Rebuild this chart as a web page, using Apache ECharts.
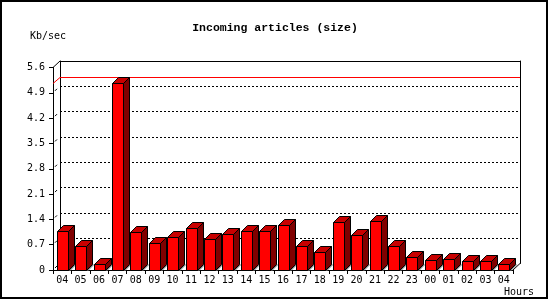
<!DOCTYPE html>
<html><head><meta charset="utf-8">
<script src="https://cdn.jsdelivr.net/npm/echarts@6/dist/echarts.min.js"></script>
<style>html,body{margin:0;padding:0;background:#fff}#c{width:550px;height:300px}</style>
</head><body><div id="c"></div>
<script>
var hours = ['04','05','06','07','08','09','10','11','12','13','14','15','16','17','18','19','20','21','22','23','00','01','02','03','04'];
var kbsec = [1.08,0.65,0.16,5.16,1.04,0.74,0.90,1.15,0.86,0.99,1.08,1.08,1.24,0.65,0.49,1.32,0.96,1.36,0.65,0.35,0.27,0.30,0.24,0.24,0.16];
var yTicks = [0,0.7,1.4,2.1,2.8,3.5,4.2,4.9,5.6];
var titleText = 'Incoming articles (size)';
var yName = 'Kb/sec';
var xName = 'Hours';

var maxVal = Math.max.apply(null, kbsec);
var FONT = '"DejaVu Sans Mono", monospace';
var D = 6, BW = 11;

function renderBar(params, api) {
  var idx = api.value(0), v = api.value(1);
  var top = api.coord([idx, v]);
  var base = api.coord([idx, 0]);
  var x0 = Math.round(top[0] - BW / 2) + 0.5, x1 = x0 + BW;
  var yT = Math.round(top[1]) + 0.5, yB = Math.round(base[1]) + 0.5;
  var ln = {stroke: '#000', lineWidth: 1};
  return {type: 'group', children: [
    {type: 'polygon', shape: {points: [[x1, yB], [x1 + D, yB - D], [x1 + D + 2, yB - D], [x1 + 2, yB]]}, style: {fill: '#8c8c8c'}},
    {type: 'polygon', shape: {points: [[x1, yT], [x1 + D, yT - D], [x1 + D, yB - D], [x1, yB]]}, style: Object.assign({fill: '#800000'}, ln)},
    {type: 'polygon', shape: {points: [[x0, yT], [x0 + D, yT - D], [x1 + D, yT - D], [x1, yT]]}, style: Object.assign({fill: '#c80000'}, ln)},
    {type: 'rect', shape: {x: x0, y: yT, width: BW, height: yB - yT}, style: Object.assign({fill: '#ff0000'}, ln)}
  ]};
}

var chart = echarts.init(document.getElementById('c'), null, {renderer: 'canvas'});
var FL = 53, FT = 67.5, W = 460, H = 202.5, DX = 7, DY = 6.5;
chart.setOption({
  animation: false,
  backgroundColor: '#fff',
  title: {text: titleText, left: 'center', top: 17, textStyle: {fontFamily: '"Liberation Mono", monospace', fontWeight: 'bold', fontSize: 11.5, color: '#000'}},
  grid: [
    {left: FL, top: FT, width: W, height: H},
    {left: FL + DX, top: FT - DY, width: W, height: H}
  ],
  xAxis: [
    {gridIndex: 0, type: 'category', data: hours, boundaryGap: true,
     axisLine: {onZero: false, lineStyle: {color: '#000', width: 1}},
     axisTick: {show: true, interval: 0, length: 4, lineStyle: {color: '#000'}},
     axisLabel: {interval: 0, margin: 5, color: '#000', fontFamily: FONT, fontSize: 10}},
    {gridIndex: 1, type: 'category', data: hours, position: 'top',
     axisLine: {onZero: false, lineStyle: {color: '#000', width: 1}}, axisTick: {show: false}, axisLabel: {show: false}}
  ],
  yAxis: [
    {gridIndex: 0, type: 'value', min: 0, max: 5.6, interval: 0.7,
     axisLine: {show: true, onZero: false, lineStyle: {color: '#000'}},
     axisTick: {show: true, length: 4, lineStyle: {color: '#000'}},
     axisLabel: {margin: 8, color: '#000', fontFamily: FONT, fontSize: 10,
       formatter: function (v) { return v === 0 ? '0' : v.toFixed(1); }},
     splitLine: {show: false}},
    {gridIndex: 1, type: 'value', min: 0, max: 5.6, interval: 0.7, position: 'left',
     axisLine: {show: true, onZero: false, lineStyle: {color: '#000'}}, axisTick: {show: false}, axisLabel: {show: false},
     splitLine: {show: true, showMinLine: false, showMaxLine: false, lineStyle: {color: '#000', type: [2, 2], width: 1}}},
    {gridIndex: 1, type: 'value', min: 0, max: 5.6, interval: 0.7, position: 'right',
     axisLine: {show: true, onZero: false, lineStyle: {color: '#000'}}, axisTick: {show: false}, axisLabel: {show: false}, splitLine: {show: false}}
  ],
  series: [
    {type: 'custom', xAxisIndex: 0, yAxisIndex: 0, z: 5, renderItem: renderBar,
     data: kbsec.map(function (v, i) { return [i, v]; })}
  ]
});

var yFront = Math.round(chart.convertToPixel({yAxisIndex: 0}, maxVal)) + 0.5;
var yBack = Math.round(chart.convertToPixel({yAxisIndex: 1}, maxVal)) + 0.5;
var g = [
  {type: 'rect', shape: {x: 1, y: 1, width: 546, height: 297}, style: {fill: 'none', stroke: '#000', lineWidth: 2}, z: 100},
  {type: 'line', shape: {x1: FL, y1: FT, x2: FL + DX, y2: FT - DY}, style: {stroke: '#000', lineWidth: 1}, z: 10},
  {type: 'line', shape: {x1: FL + W, y1: FT + H, x2: FL + W + DX, y2: FT + H - DY}, style: {stroke: '#000', lineWidth: 1}, z: 10},
  {type: 'line', shape: {x1: FL + DX, y1: yBack, x2: FL + DX + W, y2: yBack}, style: {stroke: '#ff0000', lineWidth: 1}, z: 1},
  {type: 'line', shape: {x1: FL, y1: yFront, x2: FL + DX, y2: yBack}, style: {stroke: '#ff0000', lineWidth: 1}, z: 10},
  {type: 'text', left: 30, top: 31, style: {text: yName, font: '10px ' + FONT, fill: '#000'}},
  {type: 'text', left: 504, top: 287, style: {text: xName, font: '10px ' + FONT, fill: '#000'}}
];
yTicks.slice(0, yTicks.length - 1).forEach(function (t) {
  var yf = chart.convertToPixel({yAxisIndex: 0}, t);
  g.push({type: 'line', shape: {x1: FL + 2, y1: yf - 2, x2: FL + 4, y2: yf - 4}, style: {stroke: '#000', lineWidth: 1}, z: 3});
});
chart.setOption({graphic: g});
</script></body></html>
